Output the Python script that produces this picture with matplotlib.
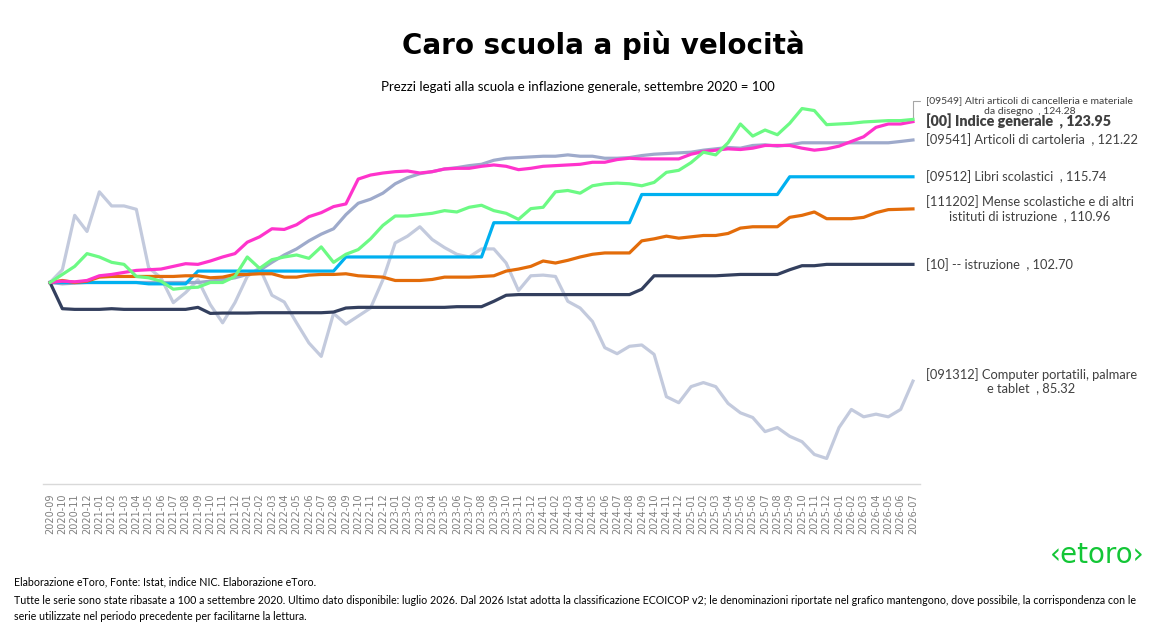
import matplotlib
matplotlib.use("Agg")
import matplotlib.pyplot as plt

# ---------------- data ----------------
months = ["2020-09", "2020-10", "2020-11", "2020-12", "2021-01", "2021-02", "2021-03", "2021-04",
          "2021-05", "2021-06", "2021-07", "2021-08", "2021-09", "2021-10", "2021-11", "2021-12",
          "2022-01", "2022-02", "2022-03", "2022-04", "2022-05", "2022-06", "2022-07", "2022-08",
          "2022-09", "2022-10", "2022-11", "2022-12", "2023-01", "2023-02", "2023-03", "2023-04",
          "2023-05", "2023-06", "2023-07", "2023-08", "2023-09", "2023-10", "2023-11", "2023-12",
          "2024-01", "2024-02", "2024-03", "2024-04", "2024-05", "2024-06", "2024-07", "2024-08",
          "2024-09", "2024-10", "2024-11", "2024-12", "2025-01", "2025-02", "2025-03", "2025-04",
          "2025-05", "2025-06", "2025-07", "2025-08", "2025-09", "2025-10", "2025-11", "2025-12",
          "2026-01", "2026-02", "2026-03", "2026-04", "2026-05", "2026-06", "2026-07"]

computer = [100, 101.9, 110.0, 107.6, 113.5, 111.4, 111.4, 110.9, 102.2, 100.7,
            97.0, 98.5, 100.4, 96.7, 94.0, 97.0, 100.9, 102.2, 98.1, 97.1,
            94.0, 91.0, 89.0, 95.4, 93.8, 95.0, 96.2, 100.4, 105.9, 106.9,
            108.3, 106.4, 105.2, 104.2, 103.8, 105.0, 105.0, 102.9, 98.8, 101.0,
            101.1, 100.9, 97.2, 96.2, 94.2, 90.3, 89.4, 90.5, 90.7, 89.3,
            83.0, 82.1, 84.5, 85.1, 84.5, 82.0, 80.6, 79.9, 77.8, 78.4,
            77.1, 76.3, 74.4, 73.8, 78.4, 81.1, 80.0, 80.4, 80.0, 81.1, 85.32]

cartoleria = [100, 99.8, 99.9, 100, 100, 100, 100, 100, 100, 100,
              100, 100, 100, 100.2, 100.4, 100.7, 101.2, 101.8, 103.0, 104.1,
              105.0, 106.2, 107.2, 108.0, 110.1, 111.8, 112.4, 113.3, 114.7, 115.6,
              116.2, 116.5, 116.9, 117.1, 117.4, 117.6, 118.2, 118.5, 118.6, 118.7,
              118.8, 118.8, 119.0, 118.8, 118.8, 118.5, 118.5, 118.6, 118.9, 119.1,
              119.2, 119.3, 119.4, 119.7, 119.9, 120.1, 120.0, 120.4, 120.5, 120.3,
              120.5, 120.8, 120.8, 120.8, 120.8, 120.8, 120.8, 120.8, 120.8, 121.0, 121.22]

libri = [100, 100, 100, 100, 100, 100, 100, 100, 99.8, 99.8,
         99.8, 99.8, 101.7, 101.7, 101.7, 101.7, 101.7, 101.7, 101.7, 101.7,
         101.7, 101.7, 101.7, 101.7, 103.8, 103.8, 103.8, 103.8, 103.8, 103.8,
         103.8, 103.8, 103.8, 103.8, 103.8, 103.8, 108.9, 108.9, 108.9, 108.9,
         108.9, 108.9, 108.9, 108.9, 108.9, 108.9, 108.9, 108.9, 113.1, 113.1,
         113.1, 113.1, 113.1, 113.1, 113.1, 113.1, 113.1, 113.1, 113.1, 113.1,
         115.74, 115.74, 115.74, 115.74, 115.74, 115.74, 115.74, 115.74, 115.74, 115.74, 115.74]

mense = [100, 100.3, 100.0, 100.2, 100.8, 100.9, 100.9, 100.9, 100.9, 100.9,
         100.9, 101.0, 101.0, 100.7, 100.8, 101.2, 101.2, 101.3, 101.3, 100.8,
         100.8, 101.1, 101.2, 101.2, 101.3, 101.0, 100.9, 100.8, 100.3, 100.3,
         100.3, 100.45, 100.8, 100.8, 100.8, 100.9, 101.0, 101.7, 102.0, 102.4,
         103.2, 102.9, 103.3, 103.8, 104.2, 104.4, 104.4, 104.4, 106.2, 106.5,
         106.9, 106.6, 106.8, 107.0, 107.0, 107.3, 108.1, 108.3, 108.3, 108.3,
         109.7, 110.0, 110.5, 109.5, 109.5, 109.5, 109.7, 110.4, 110.85, 110.9, 110.96]

istruzione = [100, 96.1, 96.0, 96.0, 96.0, 96.1, 96.0, 96.0, 96.0, 96.0,
              96.0, 96.0, 96.3, 95.4, 95.45, 95.45, 95.45, 95.5, 95.5, 95.5,
              95.5, 95.5, 95.5, 95.6, 96.2, 96.3, 96.3, 96.3, 96.3, 96.3,
              96.3, 96.3, 96.3, 96.4, 96.4, 96.4, 97.2, 98.1, 98.2, 98.2,
              98.2, 98.2, 98.2, 98.2, 98.2, 98.2, 98.2, 98.2, 99.0, 101.0,
              101.0, 101.0, 101.0, 101.0, 101.0, 101.1, 101.2, 101.2, 101.2, 101.2,
              101.9, 102.5, 102.5, 102.7, 102.7, 102.7, 102.7, 102.7, 102.7, 102.7, 102.70]

indice = [100, 100.2, 100.1, 100.3, 101.0, 101.2, 101.5, 101.8, 101.9, 102.0,
          102.4, 102.8, 102.7, 103.2, 103.8, 104.3, 106.0, 106.8, 108.0, 107.9,
          108.6, 109.8, 110.4, 111.3, 111.7, 115.4, 116.0, 116.3, 116.5, 116.6,
          116.3, 116.5, 116.9, 117.0, 117.0, 117.3, 117.5, 117.3, 116.8, 117.0,
          117.3, 117.4, 117.5, 117.6, 117.9, 117.9, 118.3, 118.5, 118.4, 118.4,
          118.4, 118.4, 119.1, 119.5, 119.7, 119.9, 119.8, 120.0, 120.4, 120.4,
          120.4, 120.0, 119.7, 119.9, 120.3, 121.0, 121.7, 123.1, 123.6, 123.6, 123.95]

altri = [100, 101.2, 102.4, 104.3, 103.8, 103.0, 102.7, 100.9, 100.7, 100.2,
         99.0, 99.2, 99.3, 100.0, 100.0, 100.9, 103.8, 102.1, 103.4, 103.8,
         104.1, 103.6, 105.3, 103.0, 104.2, 104.9, 106.5, 108.5, 109.9, 109.9,
         110.1, 110.3, 110.7, 110.5, 111.2, 111.5, 110.7, 110.3, 109.4, 111.0,
         111.2, 113.5, 113.7, 113.3, 114.4, 114.7, 114.8, 114.7, 114.4, 114.9,
         116.4, 116.7, 117.85, 119.4, 119.0, 120.8, 123.6, 121.8, 122.7, 122.0,
         123.7, 125.9, 125.6, 123.5, 123.6, 123.7, 123.9, 124.0, 124.1, 124.1, 124.28]

labels = {
    "computer": "[091312] Computer portatili, palmare\ne tablet  , 85.32",
    "cartoleria": "[09541] Articoli di cartoleria  , 121.22",
    "libri": "[09512] Libri scolastici  , 115.74",
    "mense": "[111202] Mense scolastiche e di altri\nistituti di istruzione  , 110.96",
    "istruzione": "[10] -- istruzione  , 102.70",
    "indice": "[00] Indice generale  , 123.95",
    "altri": "[09549] Altri articoli di cancelleria e materiale\nda disegno  , 124.28",
}

title = "Caro scuola a più velocità"
subtitle = "Prezzi legati alla scuola e inflazione generale, settembre 2020 = 100"
footer1 = "Elaborazione eToro, Fonte: Istat, indice NIC. Elaborazione eToro."
footer2 = ("Tutte le serie sono state ribasate a 100 a settembre 2020. Ultimo dato disponibile: luglio 2026. "
           "Dal 2026 Istat adotta la classificazione ECOICOP v2; le denominazioni riportate nel grafico mantengono, "
           "dove possibile, la corrispondenza con le")
footer3 = "serie utilizzate nel periodo precedente per facilitarne la lettura."

# ---------------- figure ----------------
fig = plt.figure(figsize=(11.75, 6.26), dpi=100)
ax = fig.add_axes([43 / 1175, 1 - 484 / 626, 877 / 1175, (484 - 81) / 626])

x = list(range(len(months)))
LW = 2.3
series = [
    ("computer", computer, "#C3CADD"),
    ("cartoleria", cartoleria, "#9EAACB"),
    ("libri", libri, "#00B0F0"),
    ("mense", mense, "#E36C0A"),
    ("istruzione", istruzione, "#333F5E"),
    ("indice", indice, "#FF33CC"),
    ("altri", altri, "#6CFA84"),
]
for z, (key, vals, col) in enumerate(series):
    ax.plot(x, vals, color=col, lw=LW, solid_joinstyle="round", zorder=3 + z)

ax.set_xlim(-0.57, len(months) - 1 + 0.57)
ax.set_ylim(70, 130)
ax.set_xticks(x)
ax.set_xticklabels(months, rotation=90, fontsize=7, color="#7F7F7F")
ax.tick_params(axis="x", length=0, pad=7)
ax.set_yticks([])
for s in ["top", "right", "left"]:
    ax.spines[s].set_visible(False)
ax.spines["bottom"].set_color("#D9D9D9")
ax.spines["bottom"].set_linewidth(1)

lab_font = "Lato"
last = len(months) - 1
LFS = 9.3
common = dict(xycoords="data", textcoords="offset points", va="center", ha="left",
              multialignment="center", color="#404040", family=lab_font, annotation_clip=False)
ax.annotate(labels["indice"], xy=(last, indice[-1]), xytext=(9.4, 0), fontsize=10.3,
            fontweight="heavy", **common)
ax.annotate(labels["cartoleria"], xy=(last, cartoleria[-1]), xytext=(9.4, 0), fontsize=LFS, **common)
ax.annotate(labels["libri"], xy=(last, libri[-1]), xytext=(9.4, 0), fontsize=LFS, **common)
ax.annotate(labels["mense"], xy=(last, mense[-1]), xytext=(9.4, 0), fontsize=LFS, **common)
ax.annotate(labels["istruzione"], xy=(last, istruzione[-1]), xytext=(9.4, 0), fontsize=LFS, **common)
ax.annotate(labels["computer"], xy=(last, computer[-1]), xytext=(9.4, 0), fontsize=LFS, **common)
ax.annotate(labels["altri"], xy=(last, altri[-1]), xytext=(9.4, 9.5), fontsize=7.5,
            arrowprops=dict(arrowstyle="-", color="#A6A6A6", lw=0.8, shrinkA=2, shrinkB=0,
                            relpos=(0, 0.75),
                            connectionstyle="angle,angleA=0,angleB=90,rad=0"),
            **common)

fig.text(603 / 1175, 1 - 45 / 626, title, ha="center", va="center", fontsize=20,
         fontweight="bold", family="DejaVu Sans", color="#000000")
fig.text(578 / 1175, 1 - 87 / 626, subtitle, ha="center", va="center", fontsize=9.5,
         family="Lato", color="#000000")

foot = dict(ha="left", va="center", fontsize=7.7, family="Lato", color="#000000")
fig.text(14 / 1175, 1 - 582 / 626, footer1, **foot)
fig.text(14 / 1175, 1 - 600 / 626, footer2, **foot)
fig.text(14 / 1175, 1 - 616 / 626, footer3, **foot)

fig.text(1097 / 1175, 1 - 555 / 626, "‹etoro›", ha="center", va="center", fontsize=20,
         family="DejaVu Sans", color="#13C636")

fig.savefig("out.png", dpi=100, facecolor="white")
